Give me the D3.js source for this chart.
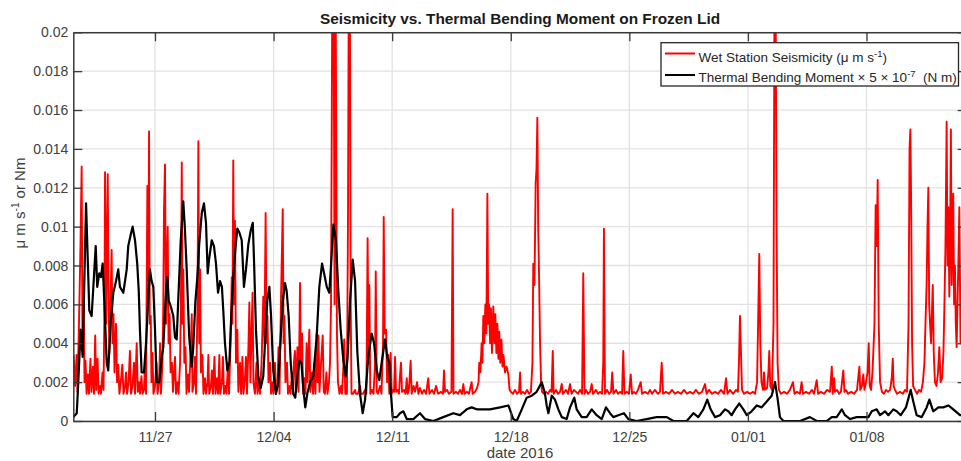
<!DOCTYPE html>
<html><head><meta charset="utf-8">
<script src="https://cdn.jsdelivr.net/npm/d3@7"></script>
<style>
body{margin:0;background:#fff;}
text{font-family:"Liberation Sans",Arial,Helvetica,sans-serif;}
</style></head><body>
<svg id="chart" width="961" height="461"></svg>
<script>
// time axis: days since 2016-11-22 00:00 UTC
const startDay = 0.177, endDay = 52.914;
const xTickDates = ["2016-11-27","2016-12-04","2016-12-11","2016-12-18","2016-12-25","2017-01-01","2017-01-08"];
const yTicks = [0,0.002,0.004,0.006,0.008,0.01,0.012,0.014,0.016,0.018,0.02];
const yTickLabels = ["0","0.002","0.004","0.006","0.008","0.01","0.012","0.014","0.016","0.018","0.02"];
const titleText = "Seismicity vs. Thermal Bending Moment on Frozen Lid";
const xLabel = "date 2016";

// Wet Station Seismicity [day, value]
const seismicity = [
[0.19,0.0034],[0.28,0.0018],[0.37,0.0034],[0.42,0.0015],[0.51,0.0049],[0.60,0.0090],[0.67,0.0131],[0.72,0.0040],[0.78,0.0070],[0.84,0.0020],
[0.90,0.0031],[0.96,0.0014],[1.04,0.0024],[1.10,0.0014],[1.19,0.0032],[1.25,0.0015],[1.34,0.0028],[1.40,0.0014],[1.47,0.0044],[1.53,0.0016],
[1.61,0.0032],[1.67,0.0014],[1.75,0.0018],[1.81,0.0014],[1.90,0.0025],[1.96,0.0016],[2.02,0.0060],[2.05,0.0128],[2.11,0.0050],[2.21,0.0127],
[2.26,0.0057],[2.31,0.0035],[2.37,0.0060],[2.44,0.0088],[2.49,0.0040],[2.55,0.0055],[2.61,0.0025],[2.70,0.0050],[2.76,0.0020],[2.83,0.0029],
[2.90,0.0014],[3.00,0.0022],[3.07,0.0029],[3.14,0.0014],[3.23,0.0018],[3.29,0.0025],[3.35,0.0014],[3.44,0.0020],[3.52,0.0036],[3.58,0.0014],
[3.67,0.0018],[3.76,0.0030],[3.82,0.0014],[3.92,0.0040],[3.98,0.0015],[4.06,0.0020],[4.11,0.0014],[4.20,0.0023],[4.26,0.0014],[4.35,0.0016],
[4.41,0.0030],[4.47,0.0014],[4.55,0.0121],[4.59,0.0060],[4.65,0.0149],[4.69,0.0050],[4.75,0.0054],[4.79,0.0020],[4.85,0.0035],[4.91,0.0014],
[5.00,0.0018],[5.09,0.0030],[5.15,0.0014],[5.24,0.0020],[5.30,0.0040],[5.35,0.0014],[5.44,0.0030],[5.49,0.0060],[5.53,0.0108],[5.59,0.0132],
[5.65,0.0050],[5.75,0.0100],[5.80,0.0040],[5.86,0.0055],[5.92,0.0025],[6.00,0.0030],[6.06,0.0015],[6.18,0.0033],[6.24,0.0014],[6.33,0.0020],
[6.39,0.0014],[6.48,0.0030],[6.53,0.0060],[6.58,0.0133],[6.62,0.0050],[6.67,0.0078],[6.73,0.0030],[6.80,0.0038],[6.86,0.0014],[6.95,0.0024],
[7.01,0.0015],[7.10,0.0035],[7.17,0.0055],[7.21,0.0015],[7.30,0.0020],[7.36,0.0033],[7.42,0.0014],[7.51,0.0060],[7.56,0.0144],[7.61,0.0040],
[7.66,0.0078],[7.71,0.0025],[7.80,0.0034],[7.86,0.0014],[7.95,0.0022],[8.01,0.0014],[8.10,0.0020],[8.15,0.0034],[8.20,0.0014],[8.30,0.0018],
[8.36,0.0026],[8.42,0.0014],[8.51,0.0033],[8.57,0.0014],[8.66,0.0022],[8.72,0.0014],[8.80,0.0034],[8.85,0.0014],[8.95,0.0020],[9.01,0.0033],
[9.07,0.0014],[9.16,0.0018],[9.22,0.0014],[9.31,0.0030],[9.37,0.0014],[9.46,0.0040],[9.53,0.0074],[9.57,0.0050],[9.62,0.0134],[9.67,0.0060],
[9.72,0.0103],[9.78,0.0030],[9.86,0.0047],[9.92,0.0015],[10.02,0.0030],[10.08,0.0014],[10.16,0.0033],[10.22,0.0014],[10.31,0.0022],[10.37,0.0033],
[10.43,0.0014],[10.52,0.0040],[10.57,0.0061],[10.63,0.0020],[10.70,0.0047],[10.76,0.0066],[10.81,0.0020],[10.90,0.0014],[10.99,0.0030],[11.05,0.0014],
[11.14,0.0020],[11.20,0.0014],[11.29,0.0030],[11.35,0.0050],[11.39,0.0064],[11.46,0.0040],[11.53,0.0107],[11.59,0.0040],[11.64,0.0054],[11.70,0.0020],
[11.79,0.0030],[11.85,0.0014],[11.94,0.0020],[11.99,0.0014],[12.08,0.0030],[12.14,0.0014],[12.23,0.0018],[12.29,0.0038],[12.35,0.0014],[12.44,0.0064],
[12.54,0.0109],[12.59,0.0040],[12.64,0.0054],[12.70,0.0020],[12.79,0.0030],[12.85,0.0014],[12.94,0.0018],[13.00,0.0014],[13.09,0.0025],[13.15,0.0014],
[13.20,0.0030],[13.26,0.0036],[13.32,0.0015],[13.41,0.0038],[13.47,0.0015],[13.52,0.0040],[13.56,0.0071],[13.61,0.0030],[13.68,0.0045],[13.74,0.0014],
[13.82,0.0022],[13.88,0.0014],[13.95,0.0040],[14.01,0.0020],[14.11,0.0047],[14.17,0.0015],[14.27,0.0025],[14.33,0.0014],[14.42,0.0030],[14.47,0.0014],
[14.54,0.0045],[14.60,0.0020],[14.65,0.0044],[14.71,0.0015],[14.80,0.0030],[14.90,0.0044],[14.96,0.0015],[15.03,0.0014],[15.12,0.0025],[15.18,0.0014],
[15.27,0.0020],[15.33,0.0030],[15.39,0.0060],[15.43,0.0146],[15.47,0.0230],[15.54,0.0230],[15.60,0.0060],[15.66,0.0230],[15.70,0.0139],[15.74,0.0045],
[15.80,0.0020],[15.89,0.0014],[15.98,0.0018],[16.04,0.0014],[16.13,0.0030],[16.17,0.0042],[16.23,0.0014],[16.33,0.0014],[16.39,0.0100],[16.44,0.0230],
[16.50,0.0230],[16.55,0.0060],[16.60,0.0014],[16.69,0.0014],[16.81,0.0016],[16.86,0.0014],[16.98,0.0014],[17.10,0.0018],[17.16,0.0014],[17.28,0.0014],
[17.40,0.0016],[17.48,0.0014],[17.55,0.0094],[17.61,0.0030],[17.65,0.0070],[17.71,0.0014],[17.81,0.0016],[17.90,0.0014],[17.99,0.0030],[18.03,0.0077],
[18.09,0.0015],[18.16,0.0014],[18.28,0.0018],[18.37,0.0014],[18.46,0.0040],[18.50,0.0105],[18.56,0.0045],[18.64,0.0047],[18.70,0.0020],[18.77,0.0034],
[18.83,0.0014],[18.91,0.0035],[18.97,0.0014],[19.05,0.0016],[19.11,0.0015],[19.17,0.0033],[19.23,0.0015],[19.34,0.0016],[19.40,0.0014],[19.46,0.0023],
[19.52,0.0030],[19.58,0.0015],[19.70,0.0016],[19.79,0.0014],[19.86,0.0022],[19.92,0.0014],[19.99,0.0016],[20.09,0.0031],[20.15,0.0014],[20.26,0.0018],
[20.35,0.0015],[20.47,0.0020],[20.55,0.0014],[20.64,0.0017],[20.76,0.0014],[20.88,0.0016],[21.00,0.0014],[21.13,0.0022],[21.20,0.0014],[21.35,0.0016],
[21.47,0.0014],[21.59,0.0018],[21.71,0.0014],[21.88,0.0015],[22.00,0.0014],[22.06,0.0026],[22.12,0.0015],[22.24,0.0016],[22.35,0.0014],[22.50,0.0015],
[22.57,0.0109],[22.62,0.0014],[22.77,0.0015],[22.89,0.0014],[23.00,0.0016],[23.12,0.0014],[23.20,0.0019],[23.27,0.0014],[23.42,0.0015],[23.53,0.0014],
[23.69,0.0020],[23.75,0.0014],[23.89,0.0015],[24.01,0.0017],[24.10,0.0020],[24.14,0.0030],[24.21,0.0025],[24.28,0.0040],[24.33,0.0030],[24.38,0.0054],
[24.44,0.0040],[24.50,0.0060],[24.56,0.0045],[24.62,0.0117],[24.67,0.0050],[24.72,0.0060],[24.78,0.0040],[24.83,0.0058],[24.89,0.0035],[24.97,0.0059],
[25.03,0.0040],[25.09,0.0055],[25.15,0.0035],[25.21,0.0050],[25.27,0.0032],[25.32,0.0046],[25.38,0.0030],[25.45,0.0042],[25.51,0.0028],[25.57,0.0034],
[25.66,0.0025],[25.75,0.0028],[25.86,0.0024],[25.93,0.0016],[26.01,0.0015],[26.13,0.0014],[26.25,0.0016],[26.37,0.0014],[26.49,0.0015],[26.55,0.0025],
[26.60,0.0014],[26.72,0.0015],[26.84,0.0014],[26.96,0.0016],[27.08,0.0014],[27.19,0.0015],[27.28,0.0030],[27.33,0.0081],[27.40,0.0070],[27.47,0.0122],
[27.52,0.0130],[27.57,0.0156],[27.62,0.0100],[27.67,0.0075],[27.73,0.0040],[27.79,0.0020],[27.84,0.0015],[27.96,0.0014],[28.08,0.0015],[28.20,0.0014],
[28.32,0.0016],[28.41,0.0015],[28.48,0.0036],[28.53,0.0014],[28.67,0.0016],[28.79,0.0014],[28.91,0.0015],[29.01,0.0019],[29.08,0.0014],[29.26,0.0016],
[29.38,0.0014],[29.50,0.0019],[29.59,0.0014],[29.73,0.0016],[29.85,0.0015],[29.97,0.0014],[30.09,0.0016],[30.21,0.0014],[30.28,0.0076],[30.35,0.0014],
[30.44,0.0016],[30.56,0.0014],[30.68,0.0015],[30.78,0.0019],[30.85,0.0014],[31.03,0.0016],[31.15,0.0014],[31.27,0.0015],[31.39,0.0014],[31.46,0.0030],
[31.50,0.0099],[31.56,0.0014],[31.68,0.0016],[31.80,0.0014],[31.92,0.0015],[31.99,0.0025],[32.06,0.0014],[32.21,0.0016],[32.33,0.0014],[32.45,0.0015],
[32.57,0.0014],[32.64,0.0036],[32.71,0.0014],[32.86,0.0015],[32.98,0.0014],[33.08,0.0024],[33.16,0.0014],[33.27,0.0015],[33.39,0.0014],[33.51,0.0016],
[33.67,0.0020],[33.75,0.0014],[33.92,0.0015],[34.10,0.0014],[34.22,0.0016],[34.34,0.0014],[34.51,0.0016],[34.69,0.0014],[34.81,0.0015],[34.91,0.0030],
[34.99,0.0014],[35.16,0.0015],[35.34,0.0014],[35.52,0.0016],[35.69,0.0014],[35.87,0.0015],[36.05,0.0014],[36.23,0.0016],[36.40,0.0014],[36.58,0.0015],
[36.76,0.0014],[36.93,0.0016],[37.11,0.0014],[37.29,0.0015],[37.47,0.0019],[37.56,0.0014],[37.70,0.0016],[37.88,0.0014],[38.06,0.0015],[38.23,0.0014],
[38.41,0.0016],[38.59,0.0014],[38.71,0.0022],[38.79,0.0014],[38.94,0.0016],[39.12,0.0014],[39.30,0.0016],[39.41,0.0015],[39.47,0.0030],[39.53,0.0054],
[39.59,0.0035],[39.65,0.0016],[39.77,0.0014],[39.95,0.0015],[40.12,0.0014],[40.30,0.0015],[40.42,0.0014],[40.54,0.0020],[40.62,0.0060],[40.67,0.0086],
[40.73,0.0040],[40.80,0.0020],[40.89,0.0016],[40.95,0.0025],[41.01,0.0016],[41.13,0.0017],[41.21,0.0025],[41.26,0.0036],[41.32,0.0018],[41.42,0.0016],
[41.51,0.0050],[41.57,0.0230],[41.63,0.0230],[41.69,0.0100],[41.75,0.0030],[41.83,0.0016],[41.95,0.0014],[42.13,0.0015],[42.31,0.0014],[42.48,0.0016],
[42.66,0.0020],[42.75,0.0014],[42.90,0.0015],[43.07,0.0014],[43.17,0.0020],[43.25,0.0014],[43.43,0.0015],[43.61,0.0014],[43.78,0.0016],[43.90,0.0014],
[44.06,0.0021],[44.14,0.0014],[44.31,0.0015],[44.49,0.0014],[44.67,0.0016],[44.85,0.0015],[44.95,0.0028],[45.01,0.0014],[45.09,0.0022],[45.14,0.0015],
[45.26,0.0016],[45.38,0.0014],[45.49,0.0015],[45.63,0.0026],[45.70,0.0015],[45.79,0.0016],[45.91,0.0014],[46.09,0.0015],[46.26,0.0014],[46.44,0.0016],
[46.58,0.0028],[46.63,0.0016],[46.73,0.0018],[46.81,0.0024],[46.88,0.0016],[46.97,0.0020],[47.06,0.0025],[47.13,0.0040],[47.19,0.0018],[47.27,0.0016],
[47.35,0.0025],[47.40,0.0035],[47.47,0.0050],[47.54,0.0111],[47.60,0.0090],[47.66,0.0124],[47.72,0.0050],[47.80,0.0020],[47.91,0.0015],[48.03,0.0014],
[48.15,0.0016],[48.27,0.0015],[48.39,0.0016],[48.49,0.0022],[48.55,0.0032],[48.60,0.0018],[48.68,0.0016],[48.80,0.0014],[48.98,0.0015],[49.15,0.0014],
[49.27,0.0016],[49.39,0.0015],[49.48,0.0050],[49.54,0.0140],[49.59,0.0150],[49.63,0.0116],[49.69,0.0040],[49.75,0.0018],[49.86,0.0016],[49.98,0.0014],
[50.10,0.0016],[50.22,0.0015],[50.33,0.0020],[50.42,0.0030],[50.48,0.0050],[50.55,0.0071],[50.60,0.0100],[50.65,0.0120],[50.70,0.0060],[50.75,0.0050],
[50.81,0.0040],[50.91,0.0070],[50.97,0.0035],[51.04,0.0020],[51.13,0.0018],[51.22,0.0025],[51.30,0.0038],[51.37,0.0020],[51.46,0.0022],[51.54,0.0035],
[51.60,0.0060],[51.66,0.0090],[51.73,0.0154],[51.78,0.0080],[51.83,0.0110],[51.89,0.0064],[51.94,0.0100],[51.98,0.0150],[52.03,0.0070],[52.08,0.0100],
[52.12,0.0117],[52.17,0.0060],[52.22,0.0080],[52.27,0.0050],[52.32,0.0038],[52.37,0.0060],[52.42,0.0080],[52.48,0.0110],[52.55,0.0040],[52.64,0.0060],
[52.76,0.0090],[52.87,0.0050]
];

// Thermal Bending Moment x 5e-7 [day, value]
const bendingMoment = [
[0.18,0.0002],[0.38,0.0004],[0.45,0.0016],[0.61,0.0047],[0.73,0.0033],[0.93,0.0112],[1.12,0.0057],[1.26,0.0054],[1.36,0.0069],[1.50,0.0090],
[1.59,0.0069],[1.71,0.0076],[1.81,0.0074],[1.91,0.0081],[2.01,0.0061],[2.15,0.0030],[2.24,0.0026],[2.38,0.0050],[2.54,0.0066],[2.70,0.0072],
[2.83,0.0078],[2.93,0.0069],[3.13,0.0066],[3.33,0.0078],[3.42,0.0090],[3.57,0.0096],[3.68,0.0100],[3.82,0.0093],[3.95,0.0081],[4.04,0.0067],
[4.11,0.0047],[4.21,0.0025],[4.35,0.0025],[4.47,0.0040],[4.60,0.0062],[4.70,0.0078],[4.80,0.0072],[4.90,0.0069],[5.00,0.0047],[5.10,0.0020],
[5.25,0.0020],[5.40,0.0033],[5.49,0.0038],[5.65,0.0067],[5.73,0.0074],[5.81,0.0062],[5.93,0.0059],[6.08,0.0054],[6.18,0.0043],[6.28,0.0042],
[6.38,0.0064],[6.52,0.0093],[6.67,0.0113],[6.77,0.0098],[6.87,0.0078],[7.02,0.0043],[7.17,0.0028],[7.26,0.0038],[7.38,0.0061],[7.50,0.0074],
[7.61,0.0091],[7.76,0.0107],[7.89,0.0112],[8.01,0.0102],[8.11,0.0076],[8.19,0.0083],[8.35,0.0093],[8.48,0.0090],[8.60,0.0081],[8.72,0.0066],
[8.84,0.0072],[8.95,0.0069],[9.03,0.0057],[9.13,0.0040],[9.27,0.0026],[9.39,0.0030],[9.50,0.0054],[9.62,0.0074],[9.76,0.0090],[9.86,0.0099],
[9.98,0.0097],[10.12,0.0093],[10.25,0.0069],[10.37,0.0078],[10.51,0.0091],[10.65,0.0098],[10.77,0.0102],[10.84,0.0084],[10.96,0.0047],[11.10,0.0023],
[11.24,0.0017],[11.39,0.0023],[11.51,0.0043],[11.63,0.0062],[11.75,0.0069],[11.85,0.0054],[11.98,0.0026],[12.14,0.0014],[12.28,0.0020],[12.42,0.0043],
[12.54,0.0061],[12.67,0.0071],[12.77,0.0067],[12.89,0.0054],[13.01,0.0030],[13.16,0.0014],[13.28,0.0012],[13.40,0.0023],[13.52,0.0031],[13.64,0.0030],
[13.75,0.0017],[13.87,0.0007],[13.99,0.0014],[14.15,0.0020],[14.34,0.0023],[14.54,0.0043],[14.70,0.0069],[14.86,0.0081],[14.98,0.0076],[15.14,0.0069],
[15.29,0.0066],[15.43,0.0086],[15.53,0.0101],[15.68,0.0093],[15.82,0.0067],[15.96,0.0047],[16.12,0.0031],[16.26,0.0023],[16.37,0.0033],[16.51,0.0061],
[16.67,0.0083],[16.81,0.0072],[16.94,0.0036],[17.10,0.0014],[17.26,0.0004],[17.40,0.0011],[17.59,0.0033],[17.79,0.0045],[17.93,0.0040],[18.09,0.0026],
[18.24,0.0021],[18.38,0.0030],[18.58,0.0042],[18.71,0.0033],[18.83,0.0030],[18.91,0.0016],[19.03,0.0002],[19.27,0.0002],[19.46,0.0004],[19.66,0.0005],
[19.86,0.0001],[20.25,0.0001],[20.64,0.0004],[20.94,0.0001],[21.43,0.0000],[22.02,0.0002],[22.61,0.0004],[23.00,0.0003],[23.40,0.0006],[23.69,0.0007],
[23.99,0.0006],[24.28,0.0006],[24.77,0.0006],[25.37,0.0007],[25.86,0.0008],[26.15,0.0001],[26.35,0.0000],[26.65,0.0006],[26.94,0.0012],[27.24,0.0013],
[27.53,0.0015],[27.83,0.0020],[28.02,0.0014],[28.12,0.0008],[28.22,0.0004],[28.42,0.0013],[28.61,0.0011],[28.81,0.0006],[29.01,0.0002],[29.30,0.0001],
[29.50,0.0007],[29.75,0.0012],[29.89,0.0006],[30.19,0.0002],[30.48,0.0002],[30.78,0.0006],[31.07,0.0003],[31.37,0.0001],[31.62,0.0007],[31.86,0.0004],
[32.05,0.0002],[32.35,0.0003],[32.68,0.0004],[32.94,0.0001],[33.43,0.0000],[34.02,0.0001],[34.61,0.0002],[35.21,0.0002],[35.60,0.0000],[36.39,0.0000],
[36.78,0.0004],[37.07,0.0002],[37.37,0.0006],[37.60,0.0011],[37.80,0.0006],[38.06,0.0002],[38.35,0.0003],[38.65,0.0006],[38.84,0.0005],[39.04,0.0003],
[39.24,0.0006],[39.49,0.0009],[39.73,0.0006],[39.93,0.0003],[40.22,0.0005],[40.52,0.0008],[40.81,0.0007],[41.11,0.0010],[41.40,0.0013],[41.60,0.0020],
[41.76,0.0011],[41.89,0.0002],[42.09,0.0000],[43.08,0.0000],[43.66,0.0002],[44.06,0.0000],[44.65,0.0000],[44.95,0.0002],[45.24,0.0002],[45.54,0.0006],
[45.73,0.0003],[46.03,0.0001],[46.42,0.0002],[46.81,0.0002],[47.11,0.0002],[47.31,0.0005],[47.60,0.0006],[47.80,0.0003],[48.09,0.0005],[48.29,0.0003],
[48.58,0.0006],[48.78,0.0005],[49.02,0.0003],[49.33,0.0007],[49.61,0.0016],[49.76,0.0010],[49.96,0.0003],[50.26,0.0002],[50.55,0.0007],[50.71,0.0011],
[50.94,0.0005],[51.24,0.0007],[51.53,0.0007],[51.83,0.0008],[52.12,0.0006],[52.52,0.0003],[52.91,0.0003]
];

const legendLabels = ["Wet Station Seismicity", "Thermal Bending Moment"];
const seriesColors = ["#ff0000", "#000000"];

const t0 = Date.UTC(2016, 10, 22);
const toDate = d => new Date(t0 + d * 864e5);

const svg = d3.select("#chart");
const L = 73.3, R = 966.7, T = 32.3, B = 421;
const x = d3.scaleUtc().domain([toDate(startDay), toDate(endDay)]).range([L, R]);
const y = d3.scaleLinear().domain([0, 0.02]).range([B, T]);
const xTicks = xTickDates.map(s => new Date(s + "T00:00:00Z"));

svg.append("rect").attr("width", 961).attr("height", 461).attr("fill", "#fff");

// grid
const grid = svg.append("g").attr("stroke", "#e2e2e2").attr("stroke-width", 1.3);
grid.selectAll("line.gx").data(xTicks).join("line")
  .attr("x1", d => x(d)).attr("x2", d => x(d)).attr("y1", T).attr("y2", B);
grid.selectAll("line.gy").data(yTicks).join("line")
  .attr("x1", L).attr("x2", R).attr("y1", d => y(d)).attr("y2", d => y(d));

svg.append("clipPath").attr("id", "clip").append("rect")
  .attr("x", L).attr("y", T).attr("width", R - L).attr("height", B - T);

const line = d3.line().x(d => x(toDate(d[0]))).y(d => y(d[1]));
const plot = svg.append("g").attr("clip-path", "url(#clip)");
plot.append("path").datum(seismicity).attr("d", line)
  .attr("fill", "none").attr("stroke", seriesColors[0]).attr("stroke-width", 1.9).attr("stroke-linejoin", "round");
plot.append("path").datum(bendingMoment).attr("d", line)
  .attr("fill", "none").attr("stroke", seriesColors[1]).attr("stroke-width", 2.2).attr("stroke-linejoin", "round");

// axes
const axisColor = "#3a3a3a";
const styleAxis = g => {
  g.selectAll(".domain").attr("stroke", axisColor).attr("stroke-width", 1.5);
  g.selectAll(".tick line").attr("stroke", axisColor).attr("stroke-width", 1.3);
  g.selectAll(".tick text").attr("fill", "#404040").attr("font-size", 14)
    .attr("font-family", '"Liberation Sans", Arial, sans-serif');
};
svg.append("g").attr("transform", `translate(0,${B})`)
  .call(d3.axisBottom(x).tickValues(xTicks).tickFormat(d3.utcFormat("%m/%d")).tickSizeInner(-9).tickSizeOuter(0).tickPadding(11))
  .call(styleAxis);
svg.append("g").attr("transform", `translate(0,${T})`)
  .call(d3.axisTop(x).tickValues(xTicks).tickFormat(() => "").tickSizeInner(-9).tickSizeOuter(0))
  .call(styleAxis);
svg.append("g").attr("transform", `translate(${L},0)`)
  .call(d3.axisLeft(y).tickValues(yTicks).tickFormat((d, i) => yTickLabels[i]).tickSizeInner(-9).tickSizeOuter(0).tickPadding(5))
  .call(styleAxis);
svg.append("g").attr("transform", `translate(${R},0)`)
  .call(d3.axisRight(y).tickValues(yTicks).tickFormat(() => "").tickSizeInner(-9).tickSizeOuter(0))
  .call(styleAxis);

// title
svg.append("text").attr("x", (L + R) / 2).attr("y", 24).attr("text-anchor", "middle")
  .attr("font-size", 15.4).attr("font-weight", "bold").attr("fill", "#1a1a1a").text(titleText);
// x label
svg.append("text").attr("x", (L + R) / 2).attr("y", 458).attr("text-anchor", "middle")
  .attr("font-size", 15).attr("fill", "#404040").text(xLabel);
// y label
const yl = svg.append("text").attr("transform", "translate(25,203) rotate(-90)").attr("text-anchor", "middle")
  .attr("font-size", 15).attr("fill", "#404040");
yl.append("tspan").text("\u03bc m s");
yl.append("tspan").attr("dy", -6).attr("font-size", 10).text("-1");
yl.append("tspan").attr("dy", 6).text(" or Nm");

// legend
const lg = svg.append("g");
lg.append("rect").attr("x", 661).attr("y", 42.7).attr("width", 297.5).attr("height", 43.3)
  .attr("fill", "#fff").attr("stroke", "#262626").attr("stroke-width", 1.3);
const rows = [53.5, 75];
rows.forEach((ry, i) => {
  lg.append("line").attr("x1", 665).attr("x2", 695).attr("y1", ry).attr("y2", ry)
    .attr("stroke", seriesColors[i]).attr("stroke-width", 2);
});
const lt1 = lg.append("text").attr("x", 698.5).attr("y", 62).attr("font-size", 13.5).attr("fill", "#262626");
lt1.append("tspan").text(legendLabels[0] + " (\u03bc m s");
lt1.append("tspan").attr("dy", -5).attr("font-size", 9.5).text("-1");
lt1.append("tspan").attr("dy", 5).text(")");
const lt2 = lg.append("text").attr("x", 698.5).attr("y", 81.5).attr("font-size", 13.5).attr("fill", "#262626");
lt2.append("tspan").text(legendLabels[1] + " \u00d7 5 \u00d7 10");
lt2.append("tspan").attr("dy", -5).attr("font-size", 9.5).text("-7");
lt2.append("tspan").attr("dy", 5).attr("xml:space", "preserve").text("\u00a0\u00a0(N m)");
</script>
</body></html>
